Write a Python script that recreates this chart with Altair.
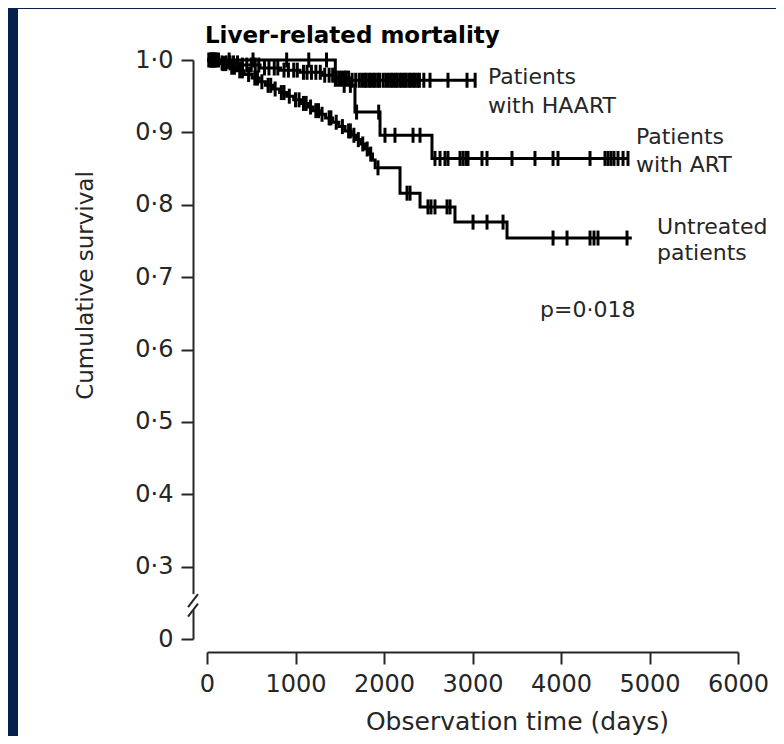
import altair as alt
import pandas as pd

# ---------------- data ----------------
# Kaplan-Meier steps: event time (days) and survival after the event
haart_times = [150, 380, 600, 830, 1050, 1300, 1440, 1620]
haart_surv = [0.996, 0.993, 0.989, 0.986, 0.983, 0.979, 0.975, 0.972]
haart_end = 3030
haart_censor = [20, 45, 70, 95, 130, 170, 215, 260, 300, 345, 400, 450, 500, 545, 585,
                650, 700, 760, 800, 870, 920, 980, 1020, 1090, 1130, 1180, 1230,
                1280, 1330, 1380, 1420, 1460, 1490, 1520, 1550, 1570, 1600, 1640,
                1680, 1720, 1750, 1780, 1800, 1830, 1850, 1880, 1900, 1930, 1950,
                1990, 2020, 2050, 2080, 2100, 2130, 2150, 2180, 2200, 2230, 2250,
                2280, 2300, 2330, 2350, 2380, 2400, 2450, 2520, 2723, 2938, 3030]

art_times = [1450, 1672, 1955, 2542]
art_surv = [0.965, 0.928, 0.896, 0.864]
art_end = 4757
art_censor = [80, 250, 520, 900, 1150, 1350, 1550, 1620, 1690, 1940, 2011, 2124,
              2328, 2407, 2576, 2633, 2689, 2723, 2859, 2893, 2927, 2949, 3107,
              3164, 3446, 3706, 3910, 3966, 4328, 4497, 4531, 4565, 4599, 4644,
              4701, 4757]

untr_times = [120, 230, 330, 420, 510, 590, 660, 740, 820, 900, 980, 1060, 1140,
              1200, 1270, 1340, 1420, 1490, 1560, 1630, 1690, 1740, 1790, 1830,
              1870, 1900, 2181, 2407, 2802, 3390]
untr_surv = [0.995, 0.990, 0.985, 0.980, 0.975, 0.970, 0.965, 0.960, 0.955, 0.950,
             0.945, 0.940, 0.935, 0.930, 0.925, 0.920, 0.914, 0.908, 0.902, 0.896,
             0.890, 0.884, 0.877, 0.870, 0.862, 0.851, 0.816, 0.797, 0.776, 0.754]
untr_end = 4800
untr_censor = [40, 60, 100, 180, 210, 280, 310, 370, 400, 470, 540, 570, 620, 690,
               720, 770, 840, 870, 930, 1000, 1040, 1090, 1120, 1170, 1230, 1260,
               1300, 1380, 1400, 1460, 1530, 1600, 1620, 1660, 1710, 1760, 1810,
               1850, 1932, 2260, 2294, 2497, 2531, 2576, 2712, 2746, 3006, 3164,
               3345, 3910, 4068, 4328, 4373, 4418, 4746]

x_tick_values = [0, 1000, 2000, 3000, 4000, 5000, 6000]
y_tick_values = [0.2, 0.3, 0.4, 0.5, 0.6, 0.7, 0.8, 0.9, 1.0]  # 0.2 slot is labelled "0" (broken axis)

ann_text = ["Patients", "with HAART", "Patients", "with ART", "Untreated", "patients", "p=0·018"]
ann_x = [3175, 3175, 4847, 4847, 5085, 5085, 3763]
ann_y = [0.9765, 0.936, 0.894, 0.855, 0.769, 0.733, 0.6546]

title_text = ["Liver-related mortality"]
title_x = [-23]
title_y = [1.0332]

# axis break (drawn on the y axis between 0 and 0.3)
axis_pos_x = -158
break_gap = [0.240, 0.262]
slash_x = [-214, -102]
slash_y = [[0.244, 0.262], [0.231, 0.249]]

# ---------------- build tables ----------------
def km_line(name, times, surv, end):
    rows = [{"group": name, "x": 0, "y": 1.0}]
    for t, s in zip(times, surv):
        rows.append({"group": name, "x": t, "y": s})
    rows.append({"group": name, "x": end, "y": surv[-1]})
    return rows

def km_at(times, surv, t):
    s = 1.0
    for ti, si in zip(times, surv):
        if ti <= t:
            s = si
    return s

line_rows = (km_line("HAART", haart_times, haart_surv, haart_end)
             + km_line("ART", art_times, art_surv, art_end)
             + km_line("Untreated", untr_times, untr_surv, untr_end))
lines_df = pd.DataFrame(line_rows)

cens_rows = []
for name, times, surv, cens in [("HAART", haart_times, haart_surv, haart_censor),
                                ("ART", art_times, art_surv, art_censor),
                                ("Untreated", untr_times, untr_surv, untr_censor)]:
    for c in cens:
        cens_rows.append({"group": name, "x": c, "y": km_at(times, surv, c)})
cens_df = pd.DataFrame(cens_rows)

ann_df = pd.DataFrame({"x": ann_x, "y": ann_y, "text": ann_text})
title_df = pd.DataFrame({"x": title_x, "y": title_y, "text": title_text})
gap_df = pd.DataFrame({"x": [axis_pos_x], "y": [break_gap[0]], "y2": [break_gap[1]]})
slash_df = pd.DataFrame({"x": [slash_x[0]] * 2, "x2": [slash_x[1]] * 2,
                         "y": [p[0] for p in slash_y], "y2": [p[1] for p in slash_y]})

# ---------------- encodings ----------------
FONT = "DejaVu Sans"
TXT = "#262626"

x_axis = alt.Axis(values=x_tick_values, format="d", grid=False, domain=True,
                  domainColor=TXT, domainWidth=2, tickColor=TXT, tickWidth=2, tickSize=12,
                  labelFont=FONT, labelFontSize=24, labelColor=TXT, labelPadding=8,
                  labelFlush=False, labelOverlap=False, offset=-84,
                  title="Observation time (days)", titleFont=FONT, titleFontSize=25,
                  titleFontWeight="normal", titleColor=TXT, titleX=499, titleY=69,
                  titleAlign="center", titleBaseline="middle")
y_axis = alt.Axis(values=y_tick_values, grid=False, domain=True,
                  labelExpr="datum.value < 0.25 ? '0' : replace(format(datum.value, '.1f'), '.', '·')",
                  domainColor=TXT, domainWidth=2, tickColor=TXT, tickWidth=2, tickSize=12,
                  labelFont=FONT, labelFontSize=24, labelColor=TXT, labelPadding=8,
                  labelFlush=False, labelOverlap=False, offset=-175,
                  title="Cumulative survival", titleFont=FONT, titleFontSize=23,
                  titleFontWeight="normal", titleColor=TXT, titleX=-108, titleY=276,
                  titleAngle=-90, titleAlign="center", titleBaseline="middle")

xs = alt.Scale(domain=[0, 6000], range=[189, 720], nice=False, zero=False)
ys = alt.Scale(domain=[0.2, 1.0], range=[630, 51], nice=False, zero=False)

def X(field="x"):
    return alt.X(f"{field}:Q", scale=xs, axis=x_axis)

def Y(field="y"):
    return alt.Y(f"{field}:Q", scale=ys, axis=y_axis)

lines = alt.Chart(lines_df).mark_line(interpolate="step-after", color="black",
                                      strokeWidth=3).encode(
    x=X(), y=Y(), detail="group:N")

ticks = alt.Chart(cens_df).mark_tick(orient="vertical", size=15, thickness=3,
                                     color="black", opacity=1).encode(x=X(), y=Y())

gap = alt.Chart(gap_df).mark_rule(color="white", strokeWidth=7).encode(
    x=X(), y=Y(), y2="y2:Q")

slashes = alt.Chart(slash_df).mark_rule(color=TXT, strokeWidth=2).encode(
    x=X(), x2="x2:Q", y=Y(), y2="y2:Q")

labels = alt.Chart(ann_df).mark_text(align="left", baseline="middle", font=FONT,
                                     fontSize=22, color=TXT).encode(
    x=X(), y=Y(), text="text:N")

title = alt.Chart(title_df).mark_text(align="left", baseline="middle", font=FONT,
                                      fontSize=23, fontWeight="bold", color="black").encode(
    x=X(), y=Y(), text="text:N")

chart = alt.layer(lines, ticks, gap, slashes, labels, title).properties(
    width=758, height=727, background="#03214a",
    padding={"left": 10, "top": 1, "right": 0, "bottom": 0},
    autosize=alt.AutoSizeParams(type="none"),
).configure_view(fill="white", stroke=None)

chart.save("out.html", embed_options={"renderer": "svg", "actions": False})
